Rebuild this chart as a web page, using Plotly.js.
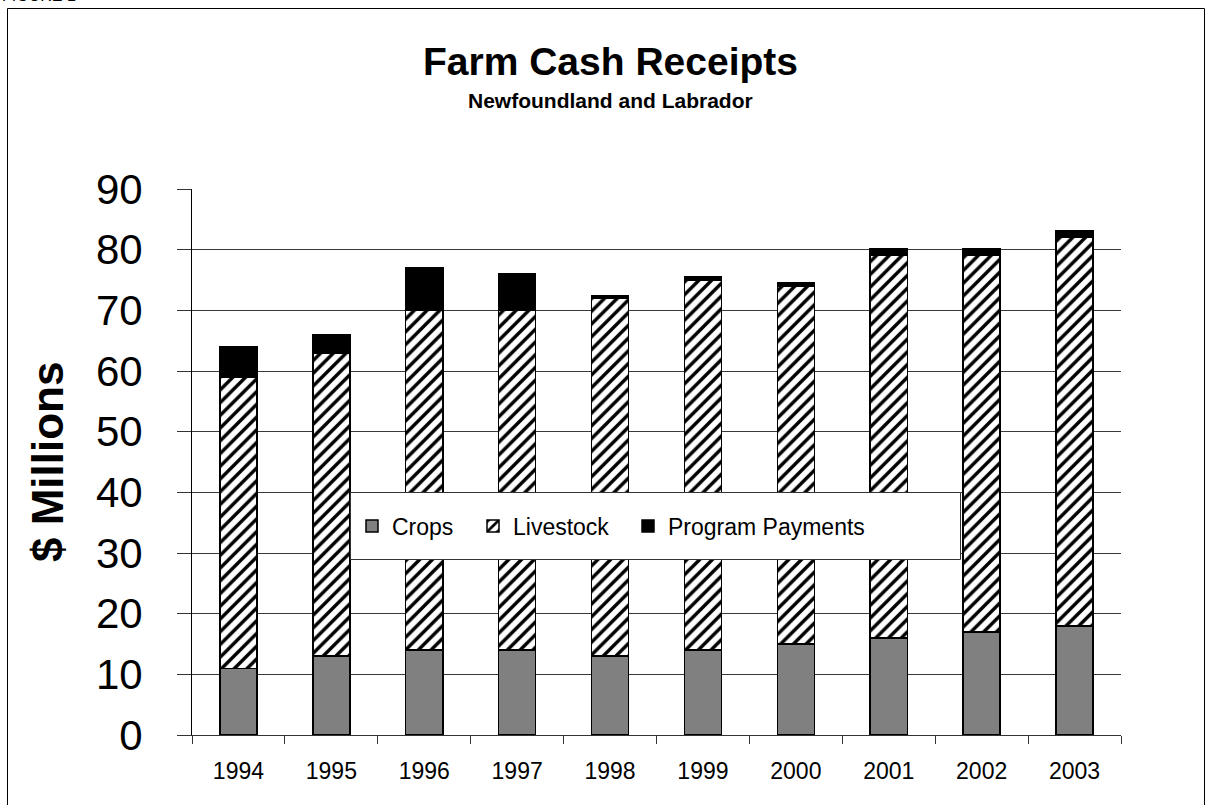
<!DOCTYPE html>
<html>
<head>
<meta charset="utf-8">
<script src="https://cdn.plot.ly/plotly-3.0.1.min.js"></script>
<style>
  html, body { margin: 0; padding: 0; background: #fff; }
  #chart { width: 1206px; height: 805px; }
</style>
</head>
<body>
<div id="chart"></div>
<script>
// ---- Data ----
const years = ['1994','1995','1996','1997','1998','1999','2000','2001','2002','2003'];
const crops = [11, 13, 14, 14, 13, 14, 15, 16, 17, 18];
const livestock = [48, 50, 56, 56, 59, 61, 59, 63, 62, 64];
const programPayments = [5, 3, 7, 6, 0.4, 0.5, 0.6, 1.1, 1.1, 1.1];
const yTicks = [0, 10, 20, 30, 40, 50, 60, 70, 80, 90];

const FONT = 'Arial, "Liberation Sans", Helvetica, sans-serif';

// plot area in pixels: left 192, right 1121, top 189, bottom 735
const L = 192, R = 1121, T = 189, B = 735;
const px = x => (x - L) / (R - L);
const py = y => (B - y) / (B - T);

const outline = { color: '#000', width: 1.5 };

const traces = [
  {
    type: 'bar', name: 'Crops', x: years, y: crops, legendwidth: 76,
    marker: { color: '#808080', line: outline }
  },
  {
    type: 'bar', name: 'Livestock', x: years, y: livestock, legendwidth: 110,
    marker: {
      color: '#ffffff', line: outline,
      pattern: { shape: '/', fgcolor: '#000000', bgcolor: '#ffffff', size: 9, solidity: 0.38 }
    }
  },
  {
    type: 'bar', name: 'Program Payments', x: years, y: programPayments,
    marker: { color: '#000000', line: outline }
  }
];

const layout = {
  width: 1206, height: 805,
  margin: { l: L, r: 1206 - R, t: T, b: 805 - B, pad: 0 },
  paper_bgcolor: '#fff', plot_bgcolor: '#fff',
  font: { family: FONT, color: '#000' },
  barmode: 'stack',
  bargap: 0.6,
  showlegend: true,
  legend: {
    orientation: 'h', traceorder: 'normal',
    x: px(352), y: py(526), xanchor: 'left', yanchor: 'middle',
    bgcolor: 'rgba(0,0,0,0)', borderwidth: 0,
    font: { family: FONT, size: 23, color: '#000' }
  },
  xaxis: {
    type: 'category',
    tickson: 'boundaries', ticks: 'outside', ticklen: 8, tickcolor: '#333', tickwidth: 1,
    showgrid: false, showline: true, linecolor: '#333', linewidth: 1,
    tickfont: { family: FONT, size: 23, color: '#000' },
    ticklabelstandoff: 15,
    fixedrange: true
  },
  yaxis: {
    range: [0, 90], tickvals: yTicks, ticktext: yTicks.map(String),
    ticks: 'outside', ticklen: 14, tickcolor: '#333', tickwidth: 1,
    showgrid: true, gridcolor: '#3a3a3a', gridwidth: 1,
    zeroline: false, showline: true, linecolor: '#000', linewidth: 1,
    tickfont: { family: FONT, size: 42, color: '#000' },
    ticklabelstandoff: 26,
    fixedrange: true
  },
  annotations: [
    {
      text: '<b>Farm Cash Receipts</b>', xref: 'paper', yref: 'paper',
      x: px(610), y: py(62), xanchor: 'center', yanchor: 'middle', showarrow: false,
      font: { family: FONT, size: 39, color: '#000' }
    },
    {
      text: '<b>Newfoundland and Labrador</b>', xref: 'paper', yref: 'paper',
      x: px(610), y: py(101), xanchor: 'center', yanchor: 'middle', showarrow: false,
      font: { family: FONT, size: 21, color: '#000' }
    },
    {
      text: '<b>$ Millions</b>', xref: 'paper', yref: 'paper',
      x: px(47), y: py(462), xanchor: 'center', yanchor: 'middle', showarrow: false,
      textangle: -90,
      font: { family: FONT, size: 44, color: '#000' }
    },
    {
      text: 'FIGURE 1', xref: 'paper', yref: 'paper',
      x: px(0), y: py(6), xanchor: 'left', yanchor: 'bottom', showarrow: false,
      font: { family: FONT, size: 16, color: '#000' }
    }
  ],
  shapes: [
    // outer frame
    {
      type: 'rect', xref: 'paper', yref: 'paper', layer: 'below',
      x0: px(7.5), x1: px(1204.5), y0: py(820), y1: py(8.5),
      line: { color: '#000', width: 1 }, fillcolor: 'rgba(0,0,0,0)'
    },
    // legend box
    {
      type: 'rect', xref: 'paper', yref: 'paper', layer: 'above',
      x0: px(350.5), x1: px(960.5), y0: py(559.5), y1: py(492.5),
      line: { color: '#333', width: 1 }, fillcolor: '#ffffff'
    }
  ]
};

Plotly.newPlot('chart', traces, layout, { displayModeBar: false, staticPlot: true });
</script>
</body>
</html>
